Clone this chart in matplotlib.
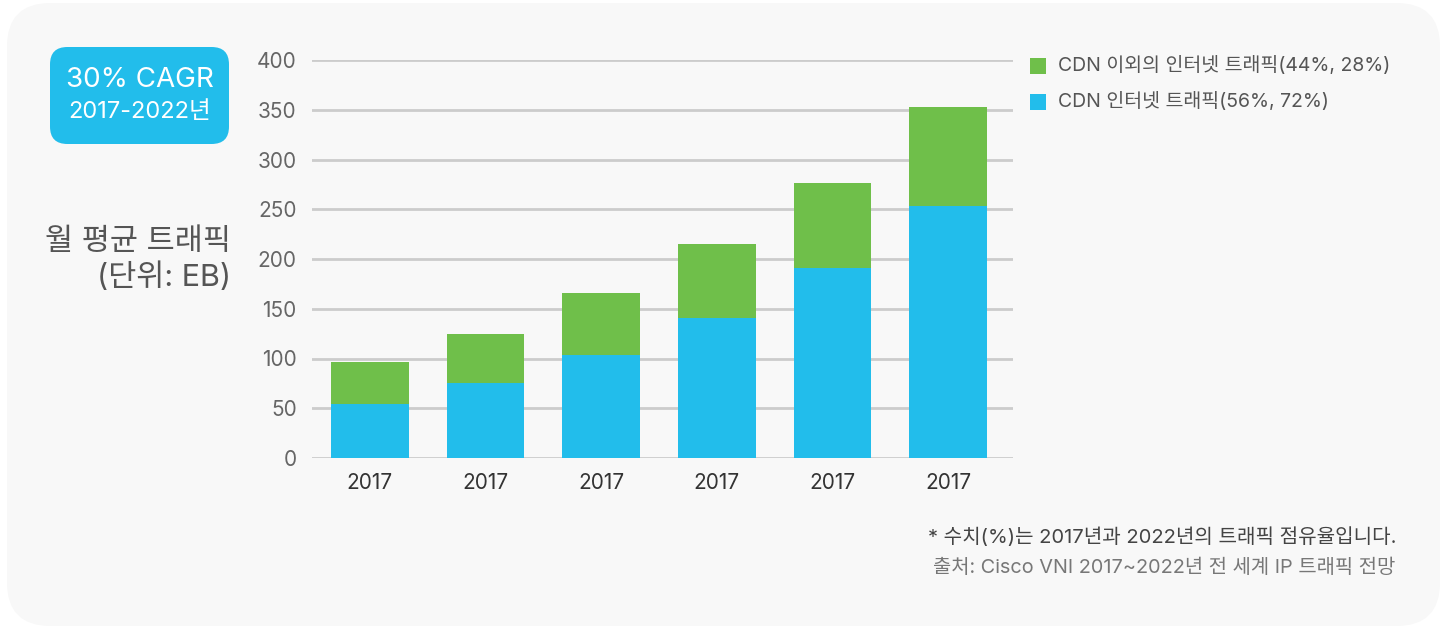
import matplotlib
matplotlib.use("Agg")
import matplotlib.pyplot as plt
from matplotlib.patches import FancyBboxPatch, Rectangle

plt.rcParams['font.family'] = ['Inter', 'Noto Sans CJK KR', 'DejaVu Sans']

# monthly traffic in EB
years = ['2017', '2017', '2017', '2017', '2017', '2017']
cdn = [54, 75, 104, 141, 191, 253]
non_cdn = [42, 50, 62, 74, 85, 100]

label_non_cdn = 'CDN 이외의 인터넷 트래픽(44%, 28%)'
label_cdn = 'CDN 인터넷 트래픽(56%, 72%)'

blue = '#22bdeb'
green = '#6fbf4a'

W, H = 1449, 628
fig = plt.figure(figsize=(W / 100, H / 100), dpi=100)
fig.patch.set_facecolor('white')

# light rounded panel behind everything
panel = FancyBboxPatch((7 / W, 2 / H), 1433 / W, 623 / H,
                       boxstyle='round,pad=0,rounding_size=0.03',
                       transform=fig.transFigure, facecolor='#f8f8f8',
                       edgecolor='none', mutation_aspect=W / H, zorder=-1)
fig.patches.append(panel)

ax = fig.add_axes([312 / W, 1 - 458 / H, (1013 - 312) / W, (458 - 60) / H])
ax.set_facecolor('none')

x = range(len(years))
ax.bar(x, cdn, width=0.67, color=blue, zorder=3)
ax.bar(x, non_cdn, width=0.67, bottom=cdn, color=green, zorder=3)

ax.set_xlim(-0.5, 5.56)
ax.set_ylim(0, 400)
ax.set_yticks(range(0, 401, 50))
ax.set_xticks(list(x))
ax.set_xticklabels(years)
ax.grid(axis='y', color='#cccccc', linewidth=2, zorder=0)
for s in ax.spines.values():
    s.set_visible(False)
ax.tick_params(length=0, labelsize=15, labelcolor='#666666')
ax.tick_params(axis='y', pad=11)
ax.tick_params(axis='x', pad=11, labelcolor='#333333')

# CAGR badge
badge = FancyBboxPatch((50 / W, 1 - 144 / H), 179 / W, 97 / H,
                       boxstyle='round,pad=0,rounding_size=0.012',
                       transform=fig.transFigure, facecolor=blue,
                       edgecolor='none', mutation_aspect=W / H)
fig.patches.append(badge)
fig.text(139.5 / W, 1 - 80 / H, '30% CAGR', color='white', fontsize=20,
         ha='center', va='center')
fig.text(139.5 / W, 1 - 112 / H, '2017-2022년', color='white', fontsize=17,
         ha='center', va='center')

# axis title
fig.text(231 / W, 1 - 242 / H, '월 평균 트래픽', color='#555555', fontsize=22,
         ha='right', va='center')
fig.text(231 / W, 1 - 277 / H, '(단위: EB)', color='#555555', fontsize=22,
         ha='right', va='center')

# legend
for yy, col, lab in [(66, green, label_non_cdn), (102, blue, label_cdn)]:
    fig.patches.append(Rectangle((1030 / W, 1 - (yy + 8) / H), 16 / W, 16 / H,
                                 transform=fig.transFigure, facecolor=col,
                                 edgecolor='none'))
    fig.text(1058 / W, 1 - yy / H, lab, color='#555555', fontsize=14,
             ha='left', va='center')

# footnotes
fig.text(1397 / W, 1 - 537 / H, '* 수치(%)는 2017년과 2022년의 트래픽 점유율입니다.',
         color='#444444', fontsize=14.5, ha='right', va='center')
fig.text(1395 / W, 1 - 568 / H, '출처: Cisco VNI 2017~2022년 전 세계 IP 트래픽 전망',
         color='#777777', fontsize=14.3, ha='right', va='center')

fig.savefig('out.png', dpi=100)
